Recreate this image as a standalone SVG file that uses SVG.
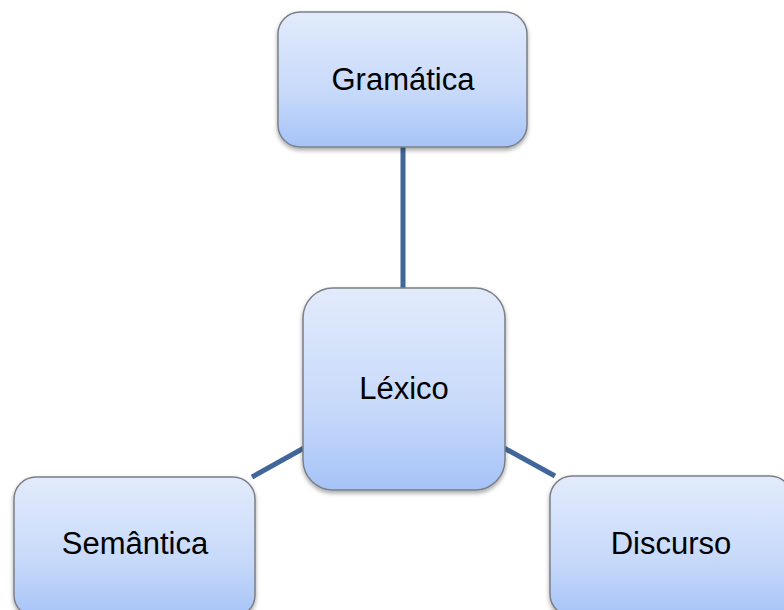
<svg xmlns="http://www.w3.org/2000/svg" width="784" height="610" viewBox="0 0 784 610">
<style>
.box{fill:url(#g);stroke:#7b7f86;stroke-width:1.5;filter:url(#sh)}
.lbl{font-family:"Liberation Sans",Arial,sans-serif;font-size:31px;fill:#000;text-anchor:middle}
.con{stroke:#41679a;stroke-width:5;fill:none}
</style>
<defs>
<linearGradient id="g" x1="0" y1="0" x2="0" y2="1">
<stop offset="0" stop-color="#e2ebfc"/>
<stop offset="0.6" stop-color="#c7d9fa"/>
<stop offset="1" stop-color="#a6c3f7"/>
</linearGradient>
<filter id="sh" x="-10%" y="-10%" width="120%" height="125%">
<feDropShadow dx="0" dy="2.5" stdDeviation="2" flood-color="#000" flood-opacity="0.35"/>
</filter>
</defs>
<rect width="784" height="610" fill="#fff"/>
<g id="connectors">
<line class="con" x1="403" y1="147" x2="403" y2="289"/>
<line class="con" x1="304" y1="448" x2="252" y2="477"/>
<line class="con" x1="504" y1="448" x2="555" y2="476"/>
</g>
<g id="gramatica">
<rect class="box" x="278" y="12" width="249" height="135" rx="22"/>
<text class="lbl" x="403" y="90">Gramática</text>
</g>
<g id="lexico">
<rect class="box" x="303" y="288" width="202" height="202" rx="30"/>
<text class="lbl" x="404" y="399">Léxico</text>
</g>
<g id="semantica">
<rect class="box" x="14" y="477" width="241" height="140" rx="22"/>
<text class="lbl" x="135" y="554">Semântica</text>
</g>
<g id="discurso">
<rect class="box" x="550" y="476" width="242" height="140" rx="22"/>
<text class="lbl" x="671" y="554">Discurso</text>
</g>
</svg>
